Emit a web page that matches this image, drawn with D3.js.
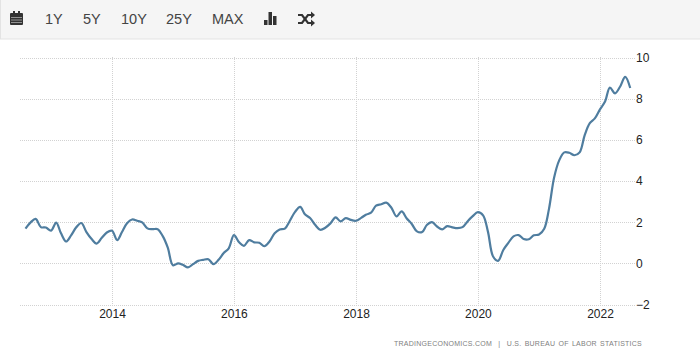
<!DOCTYPE html>
<html>
<head>
<meta charset="utf-8">
<script src="https://cdnjs.cloudflare.com/ajax/libs/d3/7.8.5/d3.min.js"></script>
<style>
html,body{margin:0;padding:0;background:#fff;}
svg{display:block;font-family:"Liberation Sans",Arial,sans-serif;}
</style>
</head>
<body>
<div id="chart"></div>
<script>
var rangeButtons = ["1Y","5Y","10Y","25Y","MAX"];
var buttonX = [45,83,121,166,212];
var yTicks = [-2,0,2,4,6,8,10];
var xTickYears = [2014,2016,2018,2020,2022];
var startMonth = "2012-08";
var sourceText = "TRADINGECONOMICS.COM  |  U.S. BUREAU OF LABOR STATISTICS";
// monthly readings, Aug 2012 to Jul 2022
var inflation = [
  1.69,1.99,2.16,1.76,1.74,
  1.59,1.98,1.47,1.06,1.36,1.75,1.96,1.52,1.18,0.96,1.24,1.50,
  1.58,1.13,1.51,1.95,2.13,2.07,1.99,1.70,1.66,1.66,1.32,0.76,
  -0.09,0.00,-0.07,-0.20,-0.04,0.12,0.17,0.20,-0.04,0.17,0.50,0.73,
  1.37,1.02,0.85,1.13,1.02,1.00,0.83,1.06,1.46,1.64,1.69,2.07,
  2.50,2.74,2.38,2.20,1.87,1.63,1.73,1.94,2.23,2.04,2.20,2.11,
  2.07,2.21,2.36,2.46,2.80,2.87,2.95,2.70,2.28,2.52,2.18,1.91,
  1.55,1.52,1.86,2.00,1.79,1.65,1.81,1.75,1.71,1.76,2.05,2.29,
  2.49,2.33,1.54,0.33,0.12,0.65,0.99,1.31,1.37,1.18,1.17,1.36,
  1.40,1.68,2.62,4.16,4.99,5.39,5.37,5.25,5.39,6.22,6.81,7.04,
  7.48,7.87,8.54,8.26,8.58,9.06,8.52
];

var width = 700, height = 354;
var parseMonth = d3.timeParse("%Y-%m");
var start = parseMonth(startMonth);
var series = inflation.map(function(v,i){
    return {date: d3.timeMonth.offset(start,i), value: v};
});

var svg = d3.select("#chart").append("svg").attr("width",width).attr("height",height);

// toolbar
svg.append("rect").attr("x",0.5).attr("y",-1).attr("width",width).attr("height",40)
    .attr("fill","#f5f5f5").attr("stroke","#e3e3e3");

svg.selectAll(".range-btn").data(rangeButtons).enter().append("text")
    .attr("class","range-btn")
    .attr("x",function(d,i){ return buttonX[i]; })
    .attr("y",24)
    .attr("font-size",14.5)
    .attr("fill","#444")
    .text(function(d){ return d; });

var iconColor = "#333";
var cal = svg.append("g").attr("fill",iconColor);
cal.append("rect").attr("x",10).attr("y",13).attr("width",13).attr("height",12).attr("rx",1);
cal.append("rect").attr("x",13).attr("y",11).attr("width",2).attr("height",3);
cal.append("rect").attr("x",18).attr("y",11).attr("width",2).attr("height",3);
cal.append("path").attr("d","M11 17.5H22M11 20H22M11 22.5H22").attr("stroke","#bbb").attr("stroke-width",0.7);

var bars = svg.append("g").attr("fill",iconColor);
bars.append("rect").attr("x",264).attr("y",20).attr("width",3.5).attr("height",5);
bars.append("rect").attr("x",268.5).attr("y",12).attr("width",3.5).attr("height",13);
bars.append("rect").attr("x",273).attr("y",16).attr("width",3.5).attr("height",9);

var shuffle = svg.append("g").attr("fill","none").attr("stroke",iconColor).attr("stroke-width",2.2);
shuffle.append("path").attr("d","M298 15H302L308 23H311");
shuffle.append("path").attr("d","M298 23H302L308 15H311");
shuffle.append("path").attr("d","M311 11.5L315 15L311 18.5Z").attr("fill",iconColor).attr("stroke","none");
shuffle.append("path").attr("d","M311 19.5L315 23L311 26.5Z").attr("fill",iconColor).attr("stroke","none");

// scales
var xScale = d3.scaleTime()
    .domain([new Date(2014,0,1),new Date(2022,0,1)])
    .range([112,600]);
var yScale = d3.scaleLinear().domain([-2,10]).range([304.5,57.5]);

var gridColor = "#d2d2d2";

// grid
svg.append("g").selectAll("line").data(yTicks).enter().append("line")
    .attr("x1",20).attr("x2",635)
    .attr("y1",function(d){ return Math.round(yScale(d))+0.5; })
    .attr("y2",function(d){ return Math.round(yScale(d))+0.5; })
    .attr("stroke",gridColor).attr("stroke-dasharray","1,1");

svg.append("g").selectAll("line").data(xTickYears).enter().append("line")
    .attr("x1",function(d){ return Math.round(xScale(new Date(d,0,1)))+0.5; })
    .attr("x2",function(d){ return Math.round(xScale(new Date(d,0,1)))+0.5; })
    .attr("y1",57).attr("y2",305)
    .attr("stroke",gridColor).attr("stroke-dasharray","1,1");

// axes, labels only
var yAxis = d3.axisRight(yScale).tickValues(yTicks).tickSize(0).tickPadding(0);
var yG = svg.append("g").attr("transform","translate(636,0)").call(yAxis);
yG.select(".domain").remove();
yG.selectAll("text").attr("font-size",12).attr("font-family","inherit").attr("fill","#222");

var xAxis = d3.axisBottom(xScale)
    .tickValues(xTickYears.map(function(y){ return new Date(y,0,1); }))
    .tickFormat(d3.timeFormat("%Y")).tickSize(0).tickPadding(0);
var xG = svg.append("g").attr("transform","translate(0,309)").call(xAxis);
xG.select(".domain").remove();
xG.selectAll("text").attr("font-size",12).attr("font-family","inherit").attr("fill","#222");

// line
var line = d3.line()
    .x(function(d){ return xScale(d.date); })
    .y(function(d){ return yScale(d.value); })
    .curve(d3.curveCatmullRom.alpha(0.5));

svg.append("path").datum(series)
    .attr("d",line)
    .attr("fill","none")
    .attr("stroke","#4f7d9f")
    .attr("stroke-width",2.2)
    .attr("stroke-linejoin","round");

svg.append("text")
    .attr("x",642).attr("y",346)
    .attr("text-anchor","end")
    .attr("font-size",7)
    .attr("letter-spacing",0.25)
    .attr("word-spacing",1)
    .attr("fill","#808080")
    .style("white-space","pre")
    .text(sourceText);
</script>
</body>
</html>
